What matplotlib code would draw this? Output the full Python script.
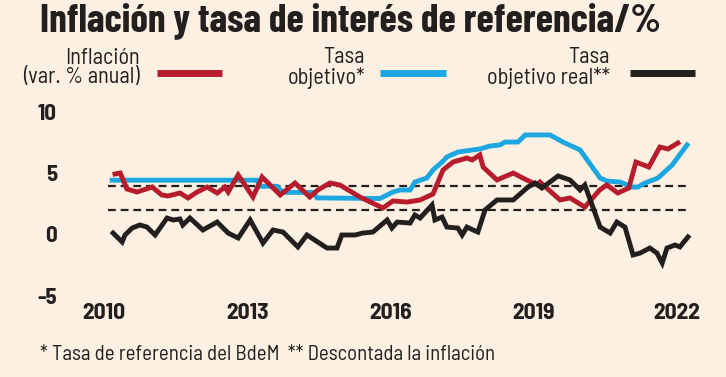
import matplotlib
matplotlib.use("Agg")
import matplotlib.pyplot as plt

# data (decimal year, percent)
infl_years = [2010.23, 2010.34, 2010.48, 2010.69, 2010.82, 2011.01, 2011.21, 2011.34, 2011.59, 2011.76,
              2011.95, 2012.16, 2012.37, 2012.53, 2012.60, 2012.81, 2013.12, 2013.31, 2013.69, 2014.00,
              2014.31, 2014.48, 2014.73, 2014.94, 2015.36, 2015.84, 2016.05, 2016.35, 2016.62, 2016.89,
              2017.10, 2017.31, 2017.60, 2017.71, 2017.87, 2017.94, 2018.23, 2018.57, 2018.77, 2019.07,
              2019.13, 2019.55, 2019.76, 2020.07, 2020.38, 2020.53, 2020.76, 2020.99, 2021.14, 2021.41,
              2021.64, 2021.81, 2022.02]
infl_vals = [4.96, 5.04, 3.73, 3.48, 3.65, 3.89, 3.24, 3.16, 3.40, 2.99,
             3.48, 3.89, 3.40, 3.89, 3.48, 4.88, 3.07, 4.71, 3.24, 4.22,
             3.07, 3.65, 4.22, 4.06, 3.07, 2.17, 2.75, 2.66, 2.83, 3.32,
             5.29, 5.94, 6.27, 6.11, 6.52, 5.53, 4.47, 5.04, 4.63, 4.06,
             4.30, 2.83, 2.99, 2.25, 3.65, 4.06, 3.40, 3.81, 5.94, 5.53,
             7.17, 7.01, 7.50]

tasa_years = [2010.17, 2013.20, 2013.27, 2013.62, 2013.75, 2014.38, 2014.46, 2015.78, 2016.05, 2016.20,
              2016.41, 2016.51, 2016.76, 2016.89, 2017.08, 2017.18, 2017.41, 2017.87, 2018.08, 2018.29,
              2018.40, 2018.67, 2018.82, 2019.34, 2019.61, 2019.97, 2020.18, 2020.39, 2020.53, 2020.81,
              2021.06, 2021.18, 2021.33, 2021.60, 2021.90, 2022.21]
tasa_vals = [4.45, 4.45, 3.95, 3.95, 3.45, 3.45, 3.0, 2.95, 3.48, 3.65,
             3.65, 4.30, 4.63, 5.29, 5.94, 6.35, 6.76, 7.01, 7.25, 7.34,
             7.58, 7.58, 8.16, 8.16, 7.58, 6.93, 5.78, 4.63, 4.38, 4.30,
             3.89, 3.89, 4.22, 4.63, 5.70, 7.34]

real_years = [2010.19, 2010.38, 2010.44, 2010.59, 2010.75, 2010.90, 2011.07, 2011.32, 2011.45, 2011.59,
              2011.65, 2011.80, 2012.07, 2012.37, 2012.60, 2012.81, 2013.06, 2013.33, 2013.54, 2013.75,
              2014.06, 2014.25, 2014.67, 2014.88, 2014.98, 2015.26, 2015.42, 2015.63, 2015.93, 2016.03,
              2016.14, 2016.41, 2016.51, 2016.62, 2016.87, 2016.93, 2017.08, 2017.18, 2017.41, 2017.50,
              2017.60, 2017.73, 2017.83, 2017.98, 2018.23, 2018.57, 2018.88, 2019.03, 2019.17, 2019.51,
              2019.76, 2019.97, 2020.07, 2020.39, 2020.60, 2020.74, 2020.91, 2021.08, 2021.23, 2021.43,
              2021.58, 2021.69, 2021.79, 2021.96, 2022.06, 2022.23]
real_vals = [0.12, -0.61, -0.04, 0.53, 0.78, 0.61, -0.04, 1.35, 1.19, 1.27,
             0.78, 1.35, 0.37, 1.02, 0.12, -0.29, 1.19, -0.70, 0.37, 0.20,
             -1.02, -0.04, -1.11, -1.11, -0.04, -0.04, 0.12, 0.20, 1.19, 0.53,
             1.02, 0.94, 1.60, 1.35, 2.42, 1.19, 1.43, 0.61, 0.53, -0.04,
             0.61, 0.37, 0.20, 2.01, 2.83, 2.83, 3.89, 4.22, 3.81, 4.80,
             4.47, 3.65, 4.06, 0.61, 0.12, 1.02, 0.61, -1.68, -1.52, -1.11,
             -1.52, -2.34, -1.11, -0.86, -1.02, -0.20]

band = [2, 4]
year_ticks = [2010, 2013, 2016, 2019, 2022]
value_ticks = [-5, 0, 5, 10]

BG = "#FBF0E2"
RED = "#B71C2C"
BLUE = "#1DA7E0"
BLACK = "#231F1F"

BODY = ["Barlow Semi Condensed", "DejaVu Sans"]
HEAD = ["Barlow Condensed", "DejaVu Sans"]
plt.rcParams["font.family"] = BODY

W, H = 726, 377
fig = plt.figure(figsize=(W / 100, H / 100), dpi=100, facecolor=BG)

# pixel layout: x = 104 + (year-2010)*47.75 ; y = 234.5 - v*12.2
px_l, px_r, py_t, py_b = 100, 700, 100, 300
ax = fig.add_axes([px_l / W, 1 - py_b / H, (px_r - px_l) / W, (py_b - py_t) / H])
ax.set_facecolor(BG)
ax.set_xlim(2010 + (px_l - 104) / 47.75, 2010 + (px_r - 104) / 47.75)
ax.set_ylim((234.5 - py_b) / 12.2, (234.5 - py_t) / 12.2)

for v in band:
    ax.hlines(v, 2010.08, 2022.23, colors=BLACK, lw=1.6, linestyles=(0, (3.5, 2.2)), zorder=1)

ax.plot(infl_years, infl_vals, color=RED, lw=3.5, solid_joinstyle="miter", zorder=3)
ax.plot(tasa_years, tasa_vals, color=BLUE, lw=3.5, solid_joinstyle="miter", zorder=2)
ax.plot(real_years, real_vals, color=BLACK, lw=3.5, solid_joinstyle="miter", zorder=4)

for s in ax.spines.values():
    s.set_visible(False)
ax.set_xticks(year_ticks)
ax.set_xticklabels([str(y) for y in year_ticks], fontsize=17, fontweight="bold", color=BLACK)
ax.set_yticks(value_ticks)
ax.set_yticklabels([str(v) for v in value_ticks], fontsize=16.5, fontweight="bold", color=BLACK)
ax.tick_params(axis="x", length=0, pad=2)
ax.tick_params(axis="y", length=0, pad=31)

fig.text(350 / W, 1 - 21 / H, "Inflación y tasa de interés de referencia/%", ha="center", va="center",
         fontsize=28.5, fontweight="bold", color=BLACK, family=HEAD)

# legend
legend = [("Inflación\n(var. % anual)", RED, 140, 157, 222),
          ("Tasa\nobjetivo*", BLUE, 365, 380, 446),
          ("Tasa\nobjetivo real**", BLACK, 610, 630, 695)]
for label, col, tx, x0, x1 in legend:
    fig.text(tx / W, 1 - 68 / H, label, ha="right", va="center", fontsize=16, color=BLACK,
             linespacing=0.9)
    fig.add_artist(plt.Line2D([x0 / W, x1 / W], [1 - 72.5 / H, 1 - 72.5 / H], color=col, lw=5,
                              solid_capstyle="butt"))

fig.text(40 / W, 1 - 355 / H, "* Tasa de referencia del BdeM  ** Descontada la inflación",
         ha="left", va="center", fontsize=15, color=BLACK)

fig.savefig("out.png", dpi=100, facecolor=BG)
